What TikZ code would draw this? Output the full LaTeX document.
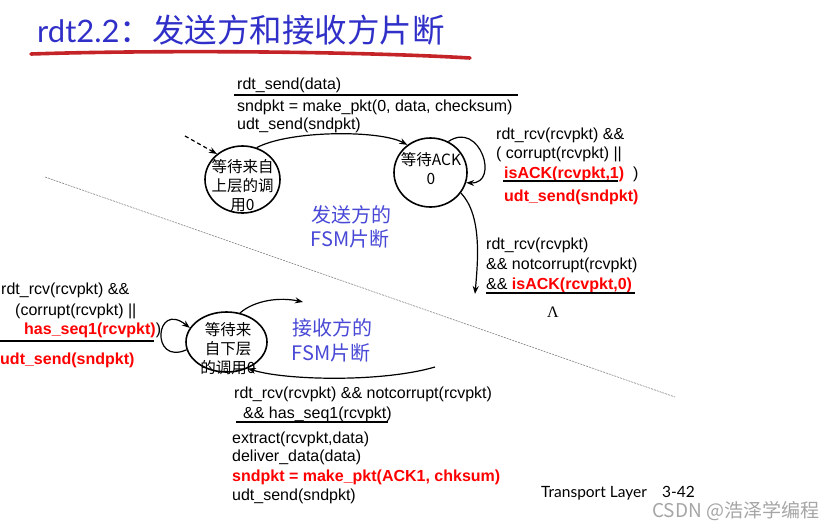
\documentclass[tikz,border=0pt]{standalone}
\usepackage{fontspec}
\setmainfont{Liberation Sans}
\newfontfamily\cjk{Noto Sans CJK SC}
\newfontfamily\titlefont{Lato}
\newfontfamily\serifont{Liberation Serif}
\usetikzlibrary{shapes.geometric,arrows.meta}
\definecolor{titleblue}{RGB}{48,48,200}
\definecolor{fsmblue}{RGB}{72,72,214}
\definecolor{brushred}{RGB}{196,36,40}
\definecolor{wmgray}{RGB}{165,165,165}
\begin{document}
\begin{tikzpicture}[x=1pt,y=1pt,
  state/.style={draw,ellipse,line width=1.6pt,inner sep=0pt},
  statetext/.style={font=\cjk\fontsize{15.5}{19}\selectfont,align=center,inner sep=0pt},
  lbl/.style={anchor=base west,inner sep=0pt,font=\fontsize{16}{19}\selectfont},
  redb/.style={lbl,text=red,font=\fontsize{16}{19}\selectfont\bfseries},
  bar/.style={line width=2.8pt},
  arr/.style={line width=1.2pt,-{Stealth[length=8pt,width=6pt]}},
  fsm/.style={font=\cjk\fontsize{20}{25}\selectfont,text=fsmblue,inner sep=0pt}]
\useasboundingbox (0,0) rectangle (838,-528);

% title
\node[anchor=base west,inner sep=0pt,text=titleblue] (title) at (37,-42)
  {{\titlefont\fontsize{31}{36}\selectfont rdt2.2}{\cjk\fontsize{32.5}{38}\selectfont ：发送方和接收方片断}};
\draw[brushred,line width=3.6pt,line cap=round] (31,-54) .. controls (150,-50) and (350,-51) .. (470,-58);

% dotted separator
\draw[gray,line width=0.6pt,dash pattern=on 2pt off 1pt] (45,-177) -- (675,-397);

% sender states
\node[state,minimum width=75pt,minimum height=67pt] (s1) at (242.5,-179.5) {};
\node[statetext] (s1t) at (242.5,-186) {等待来自\\上层的调\\用0};
\node[state,minimum width=73pt,minimum height=69pt] (s2) at (430.5,-172.5) {};
\node[statetext] (s2t) at (431,-169) {等待ACK\\0};

% receiver state
\node[state,minimum width=81pt,minimum height=60pt] (r) at (226.5,-342) {};
\node[statetext] (rt) at (228,-349) {等待来\\自下层\\的调用0};

% sender connectors
\coordinate (init) at (185,-136);
\draw[arr,dash pattern=on 4pt off 3pt] (init) -- (s1.135);
\draw[arr] (s1.66) .. controls (290,-130) and (380,-130) .. (s2.130);
\draw[arr] (s2.60) .. controls (480,-120) and (500,-184) .. (s2.-16);
\coordinate (s2out) at (475,-294);
\draw[arr] (s2.-34) .. controls (482,-215) and (478,-260) .. (s2out);

% receiver connectors
\draw[arr] (r.191) .. controls (150,-366) and (155,-300) .. (r.159);
\coordinate (rout) at (303,-302);
\draw[arr] (r.65) .. controls (255,-300) and (280,-297) .. (rout);
\coordinate (rin) at (435,-367);
\draw[arr] (rin) .. controls (380,-383) and (282,-380) .. (r.-51);

% sender top label
\node[lbl] (t1a) at (237,-89) {rdt\_send(data)};
\draw[bar] (234,-95) -- (518,-95);
\node[lbl] (t1b) at (237,-111) {sndpkt = make\_pkt(0, data, checksum)};
\node[lbl] (t1c) at (237,-129) {udt\_send(sndpkt)};

% sender loop label
\node[lbl] (t2a) at (496,-139) {rdt\_rcv(rcvpkt) \&\&};
\node[lbl] (t2b) at (496,-158) {( corrupt(rcvpkt) ||};
\node[lbl] (t2c) at (504,-178) {{\color{red}\bfseries isACK(rcvpkt,1)}\ \ )};
\draw[bar] (503,-181) -- (618,-181);
\node[redb] (t2d) at (504,-201) {udt\_send(sndpkt)};

% sender down label
\node[lbl] (t3a) at (486,-249) {rdt\_rcv(rcvpkt)};
\node[lbl] (t3b) at (486,-269) {\&\& notcorrupt(rcvpkt)};
\node[lbl] (t3c) at (486,-289) {\&\& {\color{red}\bfseries isACK(rcvpkt,0)}};
\draw[bar] (486,-293) -- (635,-293);
\node[inner sep=0pt,font=\serifont\fontsize{16}{19}\selectfont] (lam) at (553,-312) {Λ};

% FSM labels
\node[fsm] (fsmS1) at (351,-215) {发送方的};
\node[fsm] (fsmS2) at (350,-239) {FSM片断};
\node[fsm] (fsmR1) at (332,-328) {接收方的};
\node[fsm] (fsmR2) at (331,-353) {FSM片断};

% receiver loop label
\node[lbl] (t4a) at (1,-294) {rdt\_rcv(rcvpkt) \&\&};
\node[lbl] (t4b) at (15,-315) {(corrupt(rcvpkt) ||};
\node[lbl] (t4c) at (24,-334) {{\color{red}\bfseries has\_seq1(rcvpkt)})};
\draw[bar] (0,-341) -- (154,-341);
\node[redb] (t4d) at (0,-364) {udt\_send(sndpkt)};

% receiver bottom label
\node[lbl] (t5a) at (234,-398) {rdt\_rcv(rcvpkt) \&\& notcorrupt(rcvpkt)};
\node[lbl] (t5b) at (243,-418) {\&\& has\_seq1(rcvpkt)};
\draw[bar] (236,-422) -- (388,-422);
\node[lbl] (t5c) at (232,-443) {extract(rcvpkt,data)};
\node[lbl] (t5d) at (232,-461) {deliver\_data(data)};
\node[redb] (t5e) at (232,-481) {sndpkt = make\_pkt(ACK1, chksum)};
\node[lbl] (t5f) at (232,-500) {udt\_send(sndpkt)};

% footer
\node[anchor=base west,inner sep=0pt,font=\titlefont\fontsize{15.5}{18}\selectfont] (foot) at (541,-497) {Transport Layer};
\node[anchor=base west,inner sep=0pt,font=\titlefont\fontsize{15.5}{18}\selectfont] (page) at (662,-497) {3-42};
\node[anchor=base west,inner sep=0pt,text=wmgray,font=\cjk\fontsize{19}{22}\selectfont] (wm) at (652,-517) {CSDN @浩泽学编程};
\end{tikzpicture}
\end{document}
